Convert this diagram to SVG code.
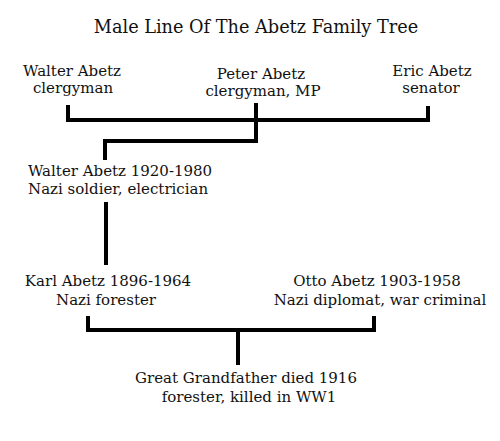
<svg xmlns="http://www.w3.org/2000/svg" width="500" height="441" viewBox="0 0 500 441">
<style>
text{font-family:"DejaVu Serif","Liberation Serif",serif;font-size:15px;fill:#111;text-anchor:middle}
.title{font-size:17.7px}
.l{text-anchor:start}
.c{fill:none;stroke:#000;stroke-width:4;stroke-linecap:butt;stroke-linejoin:miter}
</style>
<rect width="500" height="441" fill="#fff"/>
<text class="title" x="256" y="33">Male Line Of The Abetz Family Tree</text>
<g id="walter-clergy"><text x="72" y="76">Walter Abetz</text><text x="73" y="93">clergyman</text></g>
<g id="peter"><text x="261" y="79">Peter Abetz</text><text x="263" y="96">clergyman, MP</text></g>
<g id="eric"><text x="432" y="76">Eric Abetz</text><text x="431" y="93">senator</text></g>
<g id="walter-1920"><text class="l" x="28" y="176">Walter Abetz 1920-1980</text><text class="l" x="28" y="194">Nazi soldier, electrician</text></g>
<g id="karl"><text x="108" y="286">Karl Abetz 1896-1964</text><text x="106" y="305">Nazi forester</text></g>
<g id="otto"><text x="377" y="286">Otto Abetz 1903-1958</text><text x="380" y="305">Nazi diplomat, war criminal</text></g>
<g id="great-grandfather"><text x="246" y="383">Great Grandfather died 1916</text><text x="249" y="402">forester, killed in WW1</text></g>
<g id="connectors">
<path class="c" d="M68,105 V120 H428 V106"/>
<path class="c" d="M256,103 V141 H105 V160"/>
<path class="c" d="M106,202 V265"/>
<path class="c" d="M88,316 V330 H374 V316"/>
<path class="c" d="M238,330 V365"/>
</g>
</svg>
